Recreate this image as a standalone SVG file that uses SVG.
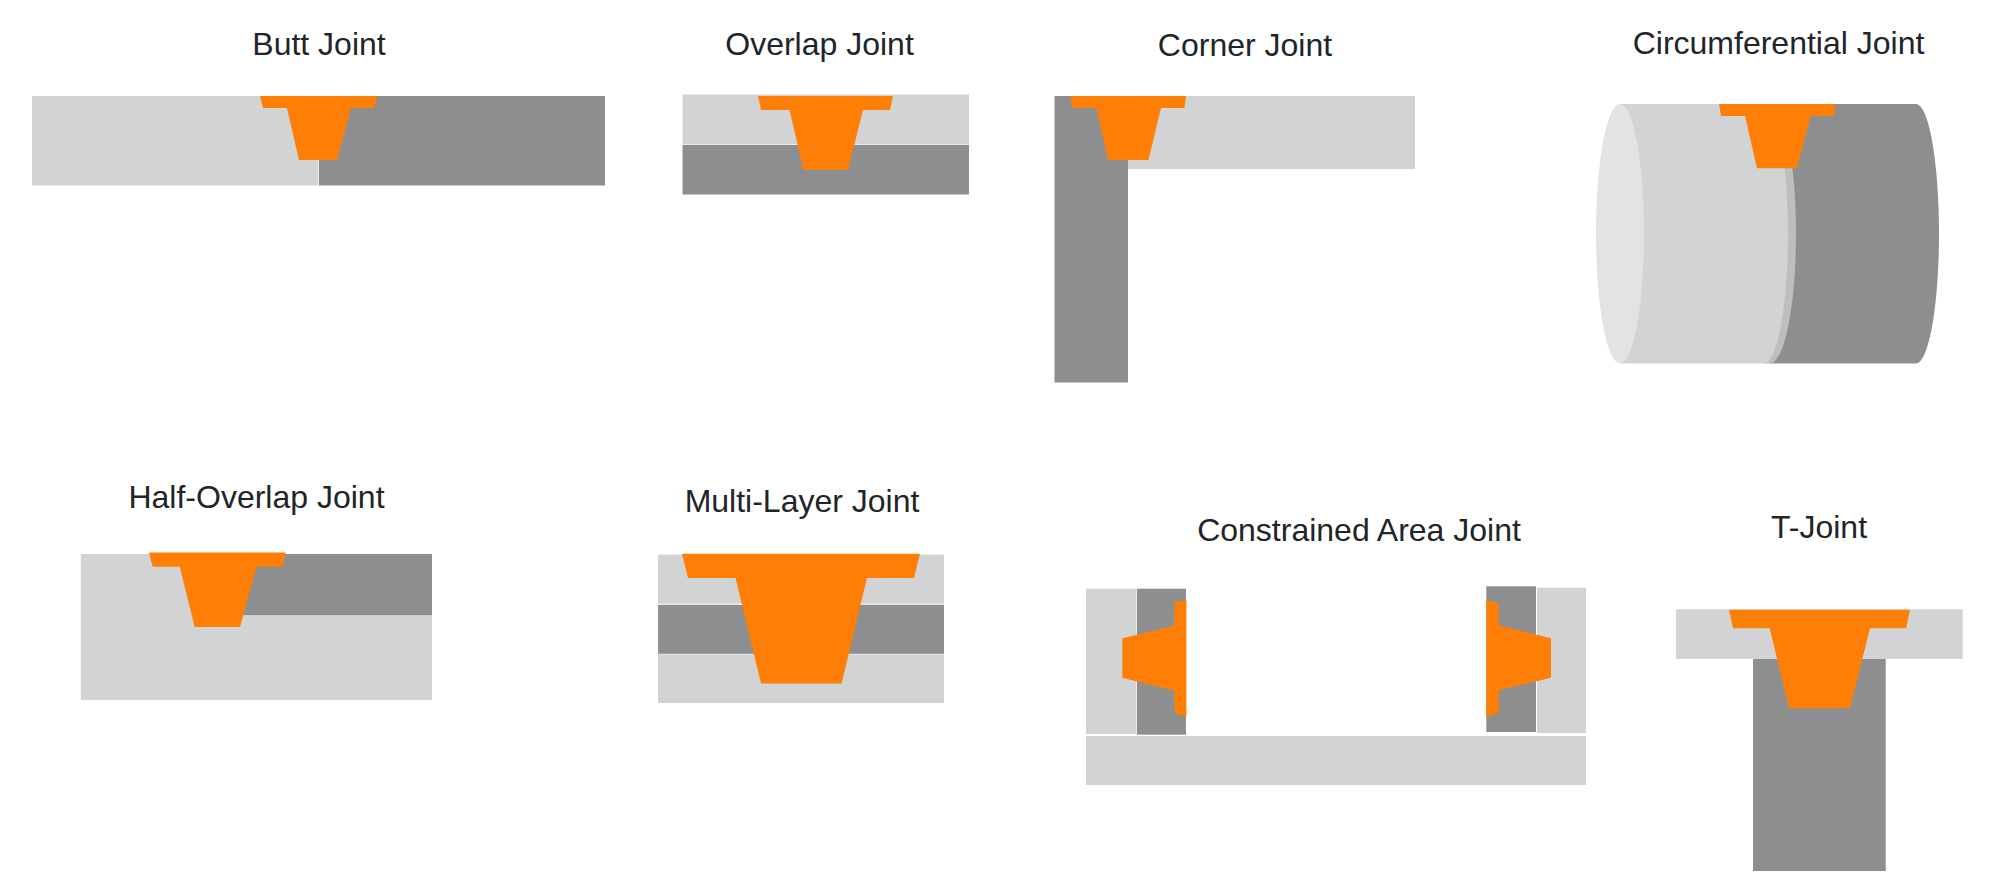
<svg xmlns="http://www.w3.org/2000/svg" width="2008" height="895" viewBox="0 0 2008 895">
<style>
.l{fill:#d1d3d4}
.d{fill:#8c8e8f}
.w{fill:#ff7f06}
.e{fill:#e2e4e3}
.b{fill:#bcbec0}
text{font-family:"Liberation Sans",Arial,sans-serif;font-size:32px;fill:#212529;text-anchor:middle}
</style>
<rect width="2008" height="895" fill="#fff"/>
<g id="butt-joint">
<text x="319" y="55">Butt Joint</text>
<rect class="l" x="32" y="96" width="286.500" height="89.500"/>
<rect class="d" x="319" y="96" width="286" height="89.500"/>
<polygon class="w" points="260,96 377.500,96 374,108 351,108 337,160 299,160 287,108 263,108"/>
</g>
<g id="overlap-joint">
<text x="819.500" y="54.500">Overlap Joint</text>
<rect class="l" x="682.500" y="94.500" width="286.500" height="49.500"/>
<rect class="d" x="682.500" y="144.800" width="286.500" height="49.700"/>
<polygon class="w" points="758,96 893,96 890,110 863,110 848,170 803.500,170 789.500,110 761,110"/>
</g>
<g id="corner-joint">
<text x="1245" y="55.500">Corner Joint</text>
<rect class="d" x="1054.500" y="96" width="73.500" height="286.500"/>
<rect class="l" x="1128" y="96" width="287" height="73"/>
<polygon class="w" points="1070,96 1186,96 1184.500,108 1161,108 1148.500,160 1108,160 1096.400,108 1072.600,108"/>
</g>
<g id="circumferential-joint">
<text x="1778.500" y="54">Circumferential Joint</text>
<path class="d" d="M1770,104H1916A23,129.700 0 0 1 1916,363.400H1770Z"/>
<path class="b" d="M1764,104H1770A26,129.700 0 0 1 1770,363.400H1764Z"/>
<path class="l" d="M1620,104H1764A24,129.700 0 0 1 1764,363.400H1620Z"/>
<ellipse class="e" cx="1620" cy="233.700" rx="24" ry="129.700"/>
<polygon class="w" points="1719,104 1835.700,104 1834,116 1810.700,116 1797,168.300 1757,168.300 1745,116 1721,116"/>
</g>
<g id="half-overlap-joint">
<text x="256.500" y="507.500">Half-Overlap Joint</text>
<rect class="d" x="210" y="554" width="222" height="61.500"/>
<path class="l" d="M80.800,554H215V615.500H432V700H80.800Z"/>
<polygon class="w" points="149,552.500 285.800,552.500 282.800,566.700 256.400,566.700 240,627 194.700,627 179.700,566.700 152.700,566.700"/>
</g>
<g id="multi-layer-joint">
<text x="802" y="511.500">Multi-Layer Joint</text>
<rect class="l" x="658" y="554.700" width="286" height="49"/>
<rect class="d" x="658" y="604.800" width="286" height="49"/>
<rect class="l" x="658" y="654.300" width="286" height="48.700"/>
<polygon class="w" points="682,553.700 920,553.700 914,578 867,578 841.600,683.500 761,683.500 735.500,578 688,578"/>
</g>
<g id="constrained-area-joint">
<text x="1359" y="540.500">Constrained Area Joint</text>
<rect class="l" x="1086" y="736" width="500" height="49"/>
<rect class="l" x="1086" y="588.700" width="50" height="145.300"/>
<rect class="d" x="1136.800" y="588.700" width="49.200" height="146"/>
<rect class="d" x="1486.300" y="586.300" width="49.700" height="145.700"/>
<rect class="l" x="1537" y="587.700" width="49" height="145.300"/>
<polygon class="w" points="1186.400,599.700 1174.700,602.300 1174,625.700 1122.300,638.300 1122.300,677.700 1174,690.700 1174.700,713.300 1186.400,716.700"/>
<polygon class="w" points="1486.300,599.700 1498.400,603 1499,625.300 1551,638.300 1551,677.700 1499,690.300 1498.400,713.300 1486.300,717.300"/>
</g>
<g id="t-joint">
<text x="1819" y="538">T-Joint</text>
<rect class="d" x="1753" y="659" width="132.700" height="212"/>
<rect class="l" x="1676" y="609.300" width="286.700" height="49.700"/>
<polygon class="w" points="1729,609.700 1910,609.700 1906,628.300 1870,628.300 1850,708.300 1789,708.300 1769.700,628.300 1733,628.300"/>
</g>
</svg>
